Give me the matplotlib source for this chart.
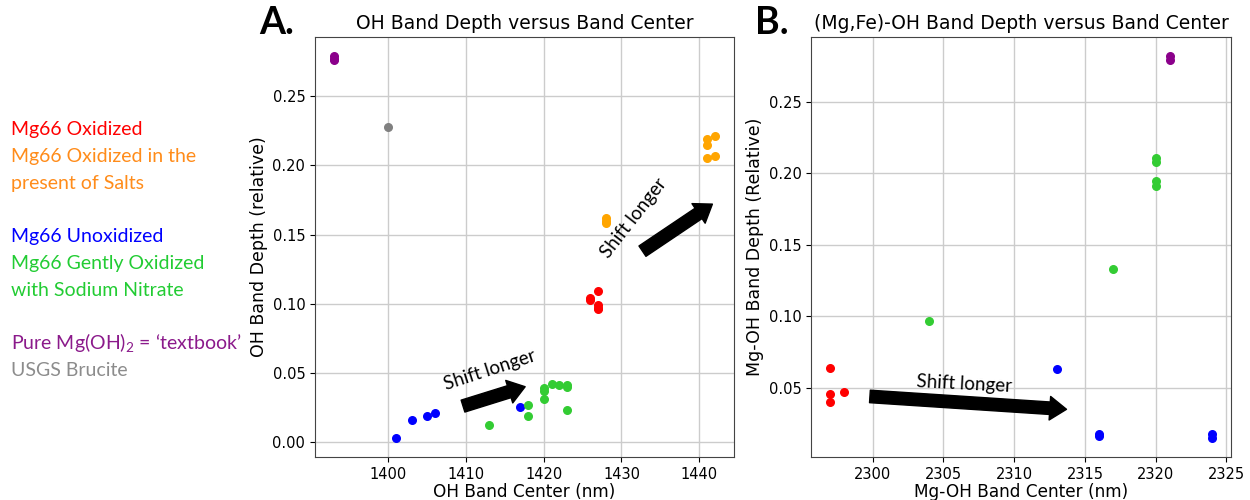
import matplotlib
matplotlib.use("Agg")
import matplotlib.pyplot as plt

plt.rcParams['mathtext.fontset'] = 'custom'
plt.rcParams['mathtext.rm'] = 'Lato'

# ---- Panel A: OH band (x = band center nm, y = band depth) ----
a_purple_x = [1393, 1393, 1393]
a_purple_y = [0.279, 0.277, 0.276]
a_grey_x = [1400]
a_grey_y = [0.228]
a_blue_x = [1401, 1403, 1405, 1406, 1417]
a_blue_y = [0.003, 0.016, 0.019, 0.021, 0.025]
a_green_x = [1413, 1418, 1418, 1420, 1420, 1420, 1421, 1422, 1423, 1423, 1423]
a_green_y = [0.012, 0.027, 0.019, 0.039, 0.037, 0.031, 0.042, 0.041, 0.041, 0.040, 0.023]
a_red_x = [1426, 1426, 1427, 1427, 1427, 1427]
a_red_y = [0.104, 0.103, 0.109, 0.099, 0.097, 0.096]
a_orange_x = [1428, 1428, 1428, 1441, 1441, 1442, 1441, 1442]
a_orange_y = [0.162, 0.160, 0.158, 0.219, 0.215, 0.221, 0.205, 0.207]

# ---- Panel B: Mg-OH band ----
b_red_x = [2297, 2297, 2297, 2298]
b_red_y = [0.064, 0.046, 0.040, 0.047]
b_green_x = [2304, 2317, 2320, 2320, 2320, 2320]
b_green_y = [0.097, 0.133, 0.211, 0.208, 0.195, 0.191]
b_purple_x = [2321, 2321]
b_purple_y = [0.282, 0.279]
b_blue_x = [2313, 2316, 2316, 2324, 2324]
b_blue_y = [0.063, 0.018, 0.016, 0.018, 0.015]

legend_lines = [
    ("Mg66 Oxidized", "#ff0000"),
    ("Mg66 Oxidized in the", "#ff8c1a"),
    ("present of Salts", "#ff8c1a"),
    ("", None),
    ("Mg66 Unoxidized", "#0000ff"),
    ("Mg66 Gently Oxidized", "#22cc33"),
    ("with Sodium Nitrate", "#22cc33"),
    ("", None),
    ("Pure Mg(OH)$_\\mathregular{2}$ = \u2018textbook\u2019", "#8b1a8b"),
    ("USGS Brucite", "#8c8c8c"),
]

C_RED, C_ORANGE, C_BLUE = "red", "orange", "blue"
C_GREEN, C_PURPLE, C_GREY = "#33cc33", "#8b008b", "grey"
S = 30

fig = plt.figure(figsize=(12.5, 5), dpi=100)
axA = fig.add_axes([0.252, 0.086, 0.335, 0.840])
axB = fig.add_axes([0.649, 0.086, 0.336, 0.840])

for ax in (axA, axB):
    ax.grid(True, color="#cccccc", linewidth=1)
    ax.set_axisbelow(True)
    ax.tick_params(labelsize=10.5)
    for sp in ax.spines.values():
        sp.set_color("#444444")

axA.scatter(a_purple_x, a_purple_y, s=S, color=C_PURPLE)
axA.scatter(a_grey_x, a_grey_y, s=S, color=C_GREY)
axA.scatter(a_blue_x, a_blue_y, s=S, color=C_BLUE)
axA.scatter(a_green_x, a_green_y, s=S, color=C_GREEN)
axA.scatter(a_red_x, a_red_y, s=S, color=C_RED)
axA.scatter(a_orange_x, a_orange_y, s=S, color=C_ORANGE)
axA.set_title("OH Band Depth versus Band Center", fontsize=13.5)
axA.set_xlabel("OH Band Center (nm)", fontsize=12.2, labelpad=1)
axA.set_ylabel("OH Band Depth (relative)", fontsize=12.5, labelpad=3)

axB.scatter(b_red_x, b_red_y, s=S, color=C_RED)
axB.scatter(b_green_x, b_green_y, s=S, color=C_GREEN)
axB.scatter(b_purple_x, b_purple_y, s=S, color=C_PURPLE)
axB.scatter(b_blue_x, b_blue_y, s=S, color=C_BLUE)
axB.set_title("(Mg,Fe)-OH Band Depth versus Band Center", fontsize=13.5)
axB.set_xlabel("Mg-OH Band Center (nm)", fontsize=12.2, labelpad=1)
axB.set_ylabel("Mg-OH Band Depth (Relative)", fontsize=12.5, labelpad=3)

arrow = dict(arrowstyle="simple,head_length=0.6,head_width=0.85,tail_width=0.45",
             color="black", mutation_scale=20, shrinkA=0, shrinkB=0)
axA.annotate("", xy=(1417.6, 0.040), xytext=(1409.6, 0.026), arrowprops=arrow)
axA.text(1413.0, 0.052, "Shift longer", rotation=18, ha="center", va="center",
         fontsize=13.5, family="Lato")
axA.annotate("", xy=(1441.7, 0.172), xytext=(1432.7, 0.138), arrowprops=arrow)
axA.text(1431.6, 0.162, "Shift longer", rotation=52, ha="center", va="center",
         fontsize=13.5, family="Lato")
axB.annotate("", xy=(2313.7, 0.035), xytext=(2299.8, 0.044), arrowprops=arrow)
axB.text(2306.5, 0.053, "Shift longer", rotation=-3, ha="center", va="center",
         fontsize=13.5, family="Lato")

fig.text(0.207, 0.955, "A.", fontsize=27, fontweight="bold", family="Lato",
         ha="left", va="center")
fig.text(0.604, 0.955, "B.", fontsize=27, fontweight="bold", family="Lato",
         ha="left", va="center")

y0 = 1 - 130 / 500
step = 26.7 / 500
for i, (txt, col) in enumerate(legend_lines):
    if not txt:
        continue
    fig.text(0.009, y0 - i * step, txt, color=col, fontsize=14, family="Lato",
             ha="left", va="center")

fig.savefig("out.png", dpi=100)
